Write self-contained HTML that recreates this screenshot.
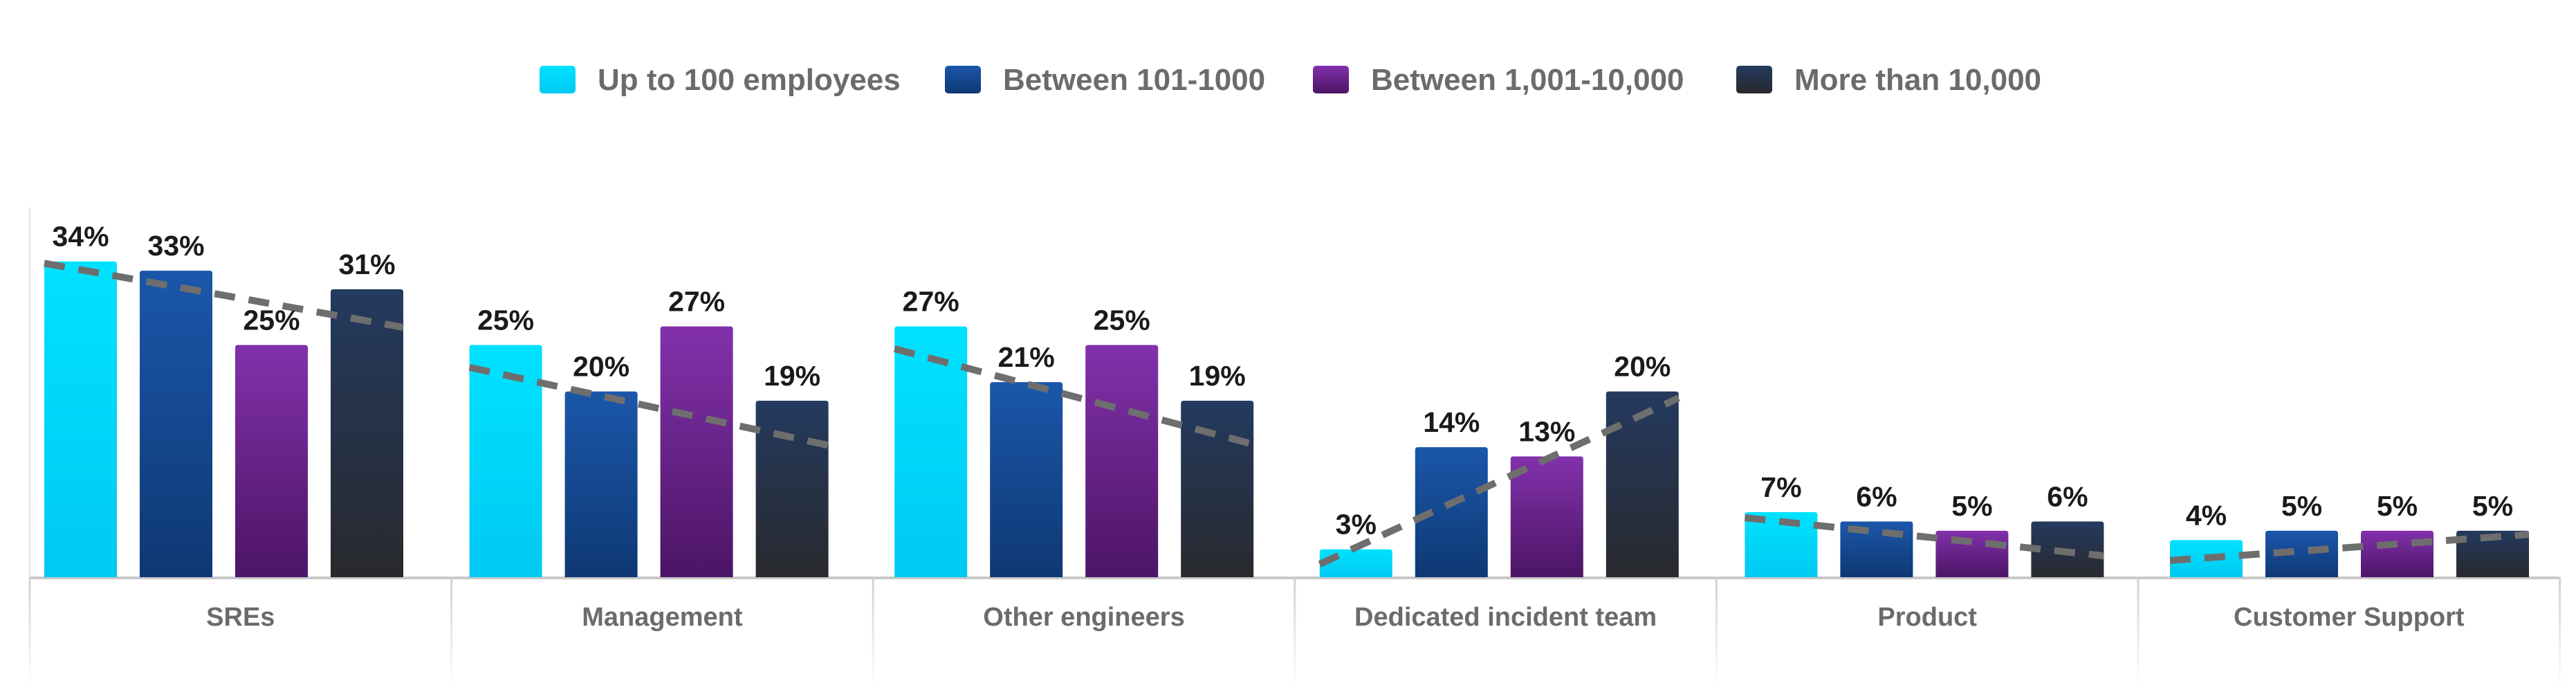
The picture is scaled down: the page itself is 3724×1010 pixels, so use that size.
<!DOCTYPE html>
<html><head><meta charset="utf-8"><style>
html,body{margin:0;padding:0;background:#fff;}
svg{display:block;font-family:"Liberation Sans",sans-serif;}
</style></head><body>
<svg id="chart" width="3724" height="1010" viewBox="0 0 3724 1010" xmlns="http://www.w3.org/2000/svg">
<defs>
<linearGradient id="g0" x1="0" y1="0" x2="0" y2="1"><stop offset="0" stop-color="#00e2ff"/><stop offset="1" stop-color="#00c9f2"/></linearGradient>
<linearGradient id="g1" x1="0" y1="0" x2="0" y2="1"><stop offset="0" stop-color="#1b57aa"/><stop offset="1" stop-color="#0e3874"/></linearGradient>
<linearGradient id="g2" x1="0" y1="0" x2="0" y2="1"><stop offset="0" stop-color="#8231ab"/><stop offset="1" stop-color="#4c1565"/></linearGradient>
<linearGradient id="g3" x1="0" y1="0" x2="0" y2="1"><stop offset="0" stop-color="#243a5f"/><stop offset="1" stop-color="#28292d"/></linearGradient>
<linearGradient id="divg" x1="0" y1="0" x2="0" y2="1"><stop offset="0" stop-color="#d0d0d0"/><stop offset="1" stop-color="#ffffff"/></linearGradient>
</defs>
<g id="legend"></g>
<g id="plot"></g>
</svg>
<script>
const categories = ["SREs","Management","Other engineers","Dedicated incident team","Product","Customer Support"];
const seriesNames = ["Up to 100 employees","Between 101-1000","Between 1,001-10,000","More than 10,000"];
const s0 = [34,25,27,3,7,4];
const s1 = [33,20,21,14,6,5];
const s2 = [25,27,25,13,5,5];
const s3 = [31,19,19,20,6,5];
const trendStart = [33.8,22.6,24.6,1.4,6.4,1.8];
const trendEnd = [26.9,14.2,14.3,19.3,2.3,4.6];
const series = [s0,s1,s2,s3];

const NS="http://www.w3.org/2000/svg";
const plot=document.getElementById('plot');
const legend=document.getElementById('legend');
function mk(tag,attrs,parent){const e=document.createElementNS(NS,tag);for(const k in attrs)e.setAttribute(k,attrs[k]);parent.appendChild(e);return e;}

const baseY=834, pxPer=13.42;
const bandX0=43, bandW=614.6, barOff=21, barStep=138, barW=105;
const divW=609.6;
function yScale(v){return baseY-v*pxPer;}
function xBar(c,i){return bandX0+c*bandW+barOff+i*barStep;}

const legX=[780,1366,1898,2510];
seriesNames.forEach((n,i)=>{
  const g=mk('g',{},legend);
  
  
  mk('rect',{x:legX[i],y:95,width:52,height:40,rx:5,fill:'url(#g'+i+')'},g);
  const t=mk('text',{x:legX[i]+84,y:130,'font-size':44,'font-weight':'bold',fill:'#6b6b6b'},g);
  t.textContent=n;
});

const ax=mk('line',{x1:bandX0,y1:baseY+1,x2:bandX0+divW*6,y2:baseY+1,stroke:'#c8c8c8','stroke-width':4},plot);


mk('line',{x1:bandX0,y1:300,x2:bandX0,y2:baseY,stroke:'#e2e2e2','stroke-width':2},plot);
for(let c=0;c<=6;c++){
  const d=mk('rect',{x:bandX0+c*divW-1.5,y:baseY,width:3,height:160,fill:'url(#divg)'},plot);
  
  
}

categories.forEach((cat,c)=>{
  const g=mk('g',{},plot);
  
  
  series.forEach((s,i)=>{
    const x=xBar(c,i), y=yScale(s[c]);
    const r=mk('path',{d:`M${x},${baseY} L${x},${y+4} Q${x},${y} ${x+4},${y} L${x+barW-4},${y} Q${x+barW},${y} ${x+barW},${y+4} L${x+barW},${baseY} Z`,fill:'url(#g'+i+')'},g);
    
    
  });
  const tl=mk('line',{x1:xBar(c,0),y1:yScale(trendStart[c]),x2:xBar(c,3)+barW,y2:yScale(trendEnd[c]),stroke:'#6e6e6e','stroke-width':10,'stroke-dasharray':'30 20'},g);
  
  
  series.forEach((s,i)=>{
    const t=mk('text',{x:xBar(c,i)+barW/2,y:yScale(s[c])-22,'text-anchor':'middle','font-size':41,'font-weight':'bold',fill:'#1a1a1a'},g);
    t.textContent=s[c]+'%';
    
    
  });
  const cl=mk('text',{x:bandX0+c*divW+divW/2,y:904,'text-anchor':'middle','font-size':38,'font-weight':'bold',fill:'#6b6b6b'},g);
  cl.textContent=cat;
  
  
});
</script>
</body></html>
